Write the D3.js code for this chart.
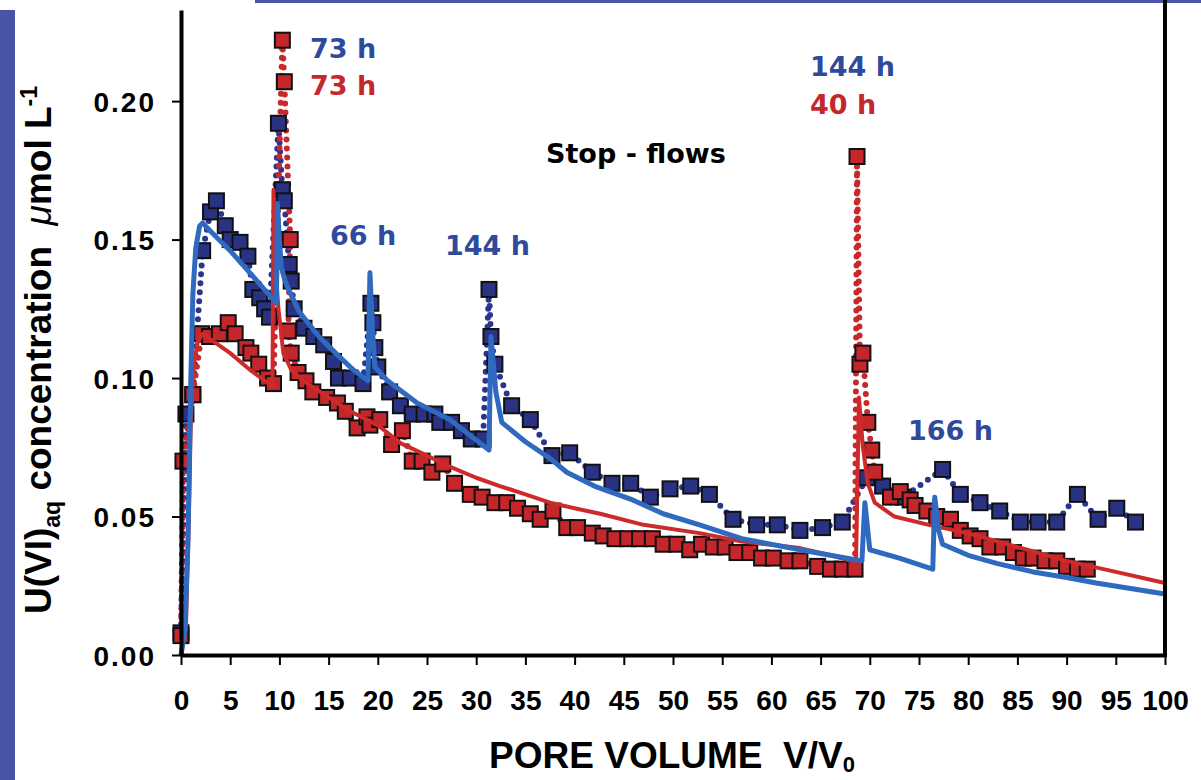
<html>
<head>
<script src="https://d3js.org/d3.v7.min.js"></script>
<style>
  body { margin: 0; background: #fff; }
  svg { display: block; }
  text { font-family: "Liberation Sans", Arial, sans-serif; font-weight: bold; }
</style>
</head>
<body>
<div id="chart"></div>
<script>
// measured U(VI) data, column A (blue) and column B (red): [pore volume, conc]
var blueData = [
  [0.0,0.008],[0.5,0.087],[1.2,0.094],[2.2,0.146],[3.0,0.160],[3.6,0.164],[4.5,0.155],
  [5.0,0.150],[6.0,0.149],[6.8,0.144],[7.3,0.132],[8.0,0.129],[8.5,0.125],[9.0,0.122],
  [9.9,0.192],[10.3,0.168],[10.5,0.164],[10.8,0.150],[11.0,0.141],[11.2,0.135],[11.5,0.125],
  [12.5,0.118],[13.5,0.115],[14.5,0.112],[15.5,0.106],[16.0,0.100],[17.2,0.100],[18.5,0.098],
  [19.3,0.127],[19.5,0.120],[19.7,0.111],[20.0,0.104],[21.2,0.095],[22.3,0.090],[23.5,0.087],
  [24.7,0.087],[25.8,0.087],[26.3,0.084],[27.5,0.084],[28.5,0.081],[29.5,0.078],[30.7,0.078],
  [31.3,0.132],[31.5,0.115],[31.9,0.105],[33.6,0.090],[35.5,0.085],[37.7,0.072],[39.5,0.073],
  [41.8,0.066],[43.8,0.062],[45.7,0.062],[47.7,0.057],[49.7,0.060],[51.8,0.061],[53.7,0.058],
  [56.1,0.049],[58.5,0.047],[60.6,0.047],[62.9,0.045],[65.2,0.046],[67.2,0.048],
  [69.7,0.064],[71.3,0.061],[73.4,0.057],[77.4,0.067],[79.2,0.058],[81.2,0.055],[83.2,0.052],
  [85.3,0.048],[87.1,0.048],[89.0,0.048],[91.1,0.058],[93.2,0.049],[95.1,0.053],[97.0,0.048]
];
var redData = [
  [0.0,0.007],[0.2,0.070],[1.2,0.094],[2.1,0.116],[2.9,0.115],[3.9,0.116],[4.8,0.120],
  [5.5,0.116],[6.6,0.111],[7.1,0.109],[7.9,0.105],[8.8,0.100],[9.4,0.098],
  [10.3,0.222],[10.5,0.207],[11.1,0.150],[10.9,0.117],[11.2,0.109],[11.9,0.102],[12.7,0.099],
  [13.4,0.095],[14.8,0.093],[15.9,0.091],[16.7,0.088],[17.9,0.082],[18.9,0.086],[19.2,0.083],
  [20.2,0.085],[21.4,0.076],[22.5,0.081],[23.5,0.070],[24.5,0.070],[25.5,0.066],[26.6,0.069],
  [27.8,0.062],[29.4,0.058],[30.6,0.057],[31.9,0.055],[33.1,0.055],[34.2,0.053],[35.5,0.051],
  [36.5,0.049],[37.8,0.052],[39.2,0.046],[40.3,0.046],[41.8,0.044],[42.9,0.043],[44.1,0.042],
  [45.4,0.042],[46.6,0.042],[47.9,0.042],[49.0,0.040],[50.4,0.040],[51.7,0.038],[52.9,0.040],
  [54.1,0.039],[55.3,0.039],[56.5,0.037],[57.8,0.037],[59.0,0.035],[60.2,0.035],[61.7,0.034],
  [62.9,0.034],[64.7,0.032],[66.0,0.031],[67.2,0.031],[68.5,0.031],
  [68.7,0.180],[69.0,0.105],[69.3,0.109],[69.8,0.084],[70.2,0.074],[70.5,0.066],[72.1,0.057],
  [73.1,0.059],[74.1,0.056],[74.6,0.054],[75.8,0.052],[76.8,0.050],[78.2,0.049],[79.2,0.045],
  [80.2,0.043],[81.2,0.042],[82.2,0.039],[83.5,0.039],[84.6,0.037],[85.6,0.035],[86.6,0.035],
  [87.8,0.034],[89.0,0.034],[90.0,0.032],[91.1,0.031],[92.1,0.031]
];
// model fits (solid lines)
var blueModel = [
  [0,0],[0.4,0.009],[0.7,0.04],[1.0,0.10],[1.2,0.13],[1.5,0.147],[1.9,0.155],[2.2,0.156],
  [3,0.153],[5,0.146],[7,0.138],[9.7,0.127],[9.8,0.163],[10.0,0.150],[10.2,0.140],[10.5,0.136],
  [10.8,0.133],[12,0.124],[14,0.115],[16,0.108],[17.5,0.103],[19.0,0.099],[19.2,0.138],
  [19.5,0.115],[19.7,0.104],[21,0.099],[24,0.091],[27.3,0.085],[29.5,0.079],[31.3,0.074],
  [31.5,0.115],[32.0,0.095],[32.6,0.084],[35,0.077],[37.5,0.071],[39.2,0.066],[42,0.061],
  [45.9,0.056],[49,0.051],[52.7,0.047],[57,0.042],[62.9,0.038],[66,0.036],[69.2,0.034],
  [69.5,0.055],[70.0,0.038],[73,0.035],[76.4,0.031],[76.6,0.057],[77.0,0.045],[77.4,0.040],
  [80,0.036],[83,0.033],[86.6,0.030],[90,0.028],[93,0.026],[96.5,0.024],[100,0.022]
];
var redModel = [
  [0,0],[0.5,0.01],[0.8,0.05],[1.0,0.085],[1.3,0.105],[1.7,0.113],[2.2,0.116],[3,0.114],
  [5,0.109],[7,0.103],[9.3,0.097],[9.4,0.168],[9.7,0.135],[9.9,0.125],[10.4,0.109],
  [11.2,0.103],[12.4,0.099],[15,0.093],[17.2,0.088],[20,0.083],[22.3,0.0765],[25,0.072],
  [27.3,0.068],[30,0.064],[32.4,0.061],[35,0.058],[37.5,0.055],[40,0.053],[42.6,0.051],
  [47,0.047],[52.7,0.044],[57,0.041],[62.9,0.0386],[66,0.036],[68.6,0.0336],[68.9,0.093],
  [69.3,0.075],[69.8,0.062],[70.5,0.055],[72.5,0.050],[76,0.047],[79.9,0.044],[85,0.039],
  [90,0.034],[95,0.030],[100,0.026]
];
var xTicks = d3.range(0, 101, 5);
var yTicks = [0, 0.05, 0.10, 0.15, 0.20];
var notes = [
  {t: "73 h", x: 310, y: 58, c: "#2f4a9c"},
  {t: "73 h", x: 310, y: 95, c: "#c5282b"},
  {t: "66 h", x: 330, y: 245, c: "#2f4a9c"},
  {t: "144 h", x: 445, y: 255, c: "#2f4a9c"},
  {t: "144 h", x: 810, y: 76, c: "#2f4a9c"},
  {t: "40 h", x: 810, y: 114, c: "#c5282b"},
  {t: "166 h", x: 908, y: 440, c: "#2f4a9c"},
  {t: "Stop - flows", x: 546, y: 163, c: "#000"}
];

var W = 1201, H = 780;
var svg = d3.select("#chart").append("svg").attr("width", W).attr("height", H);

// slide decoration
svg.append("rect").attr("x", 0).attr("y", 10).attr("width", 15).attr("height", H - 10).attr("fill", "#4a54a6");
svg.append("rect").attr("x", 255).attr("y", 0).attr("width", W - 255).attr("height", 3).attr("fill", "#4a54a6");

var x = d3.scaleLinear().domain([0, 100]).range([181, 1165]);
var y = d3.scaleLinear().domain([0, 0.2329]).range([655, 10]);

var line = d3.line().x(function(d) { return x(d[0]); }).y(function(d) { return y(d[1]); });

// dotted connectors through the data
svg.append("path").datum(blueData).attr("d", line).attr("fill", "none")
  .attr("stroke", "#2b3590").attr("stroke-width", 6).attr("stroke-linecap", "round").attr("stroke-dasharray", "0,9");
svg.append("path").datum(redData).attr("d", line).attr("fill", "none")
  .attr("stroke", "#c8282a").attr("stroke-width", 6).attr("stroke-linecap", "round").attr("stroke-dasharray", "0,9");

// squares
var sq = 15;
svg.append("g").selectAll("rect").data(blueData).enter().append("rect")
  .attr("x", function(d) { return x(d[0]) - sq / 2; }).attr("y", function(d) { return y(d[1]) - sq / 2; })
  .attr("width", sq).attr("height", sq).attr("fill", "#2a3284").attr("stroke", "#111").attr("stroke-width", 2);
svg.append("g").selectAll("rect").data(redData).enter().append("rect")
  .attr("x", function(d) { return x(d[0]) - sq / 2; }).attr("y", function(d) { return y(d[1]) - sq / 2; })
  .attr("width", sq).attr("height", sq).attr("fill", "#c4262b").attr("stroke", "#111").attr("stroke-width", 2);

// model lines
svg.append("path").datum(redModel).attr("d", line).attr("fill", "none")
  .attr("stroke", "#cf2a2a").attr("stroke-width", 4).attr("stroke-linejoin", "round");
svg.append("path").datum(blueModel).attr("d", line).attr("fill", "none")
  .attr("stroke", "#2f6ac0").attr("stroke-width", 5).attr("stroke-linejoin", "round");

// axes
var xAxis = svg.append("g").attr("transform", "translate(0,655)")
  .call(d3.axisBottom(x).tickValues(xTicks).tickSize(10).tickSizeOuter(0).tickPadding(25));
var yAxis = svg.append("g").attr("transform", "translate(181,0)")
  .call(d3.axisLeft(y).tickValues(yTicks).tickFormat(d3.format(".2f")).tickSize(9).tickSizeOuter(0).tickPadding(16));
[xAxis, yAxis].forEach(function(a) {
  a.select(".domain").attr("stroke", "#000").attr("stroke-width", 4);
  a.selectAll(".tick line").attr("stroke", "#000").attr("stroke-width", 2);
  a.selectAll(".tick text").attr("fill", "#000").style("font-size", "28px").style("font-weight", "bold")
    .style("font-family", "'Liberation Sans', Arial, sans-serif");
});
xAxis.selectAll(".tick text").attr("dy", "0.71em");
yAxis.selectAll(".tick text").style("letter-spacing", "2px").attr("dy", "0.36em");
svg.append("line").attr("x1", x(100)).attr("x2", x(100)).attr("y1", 0).attr("y2", 657)
  .attr("stroke", "#000").attr("stroke-width", 4);

// annotations
svg.append("g").selectAll("text").data(notes).enter().append("text")
  .attr("x", function(d) { return d.x; }).attr("y", function(d) { return d.y; })
  .attr("fill", function(d) { return d.c; }).style("font-size", "27px")
  .style("font-family", "'DejaVu Sans', sans-serif")
  .text(function(d) { return d.t; });

// axis titles
var xt = svg.append("text").attr("x", 672).attr("y", 768).attr("text-anchor", "middle")
  .style("font-size", "37px").style("white-space", "pre");
xt.append("tspan").text("PORE VOLUME  V/V");
xt.append("tspan").attr("dy", 4).style("font-size", "22px").text("0");

var yt = svg.append("text").attr("transform", "translate(51,350) rotate(-90)").attr("text-anchor", "middle")
  .style("font-size", "37px").style("white-space", "pre");
yt.append("tspan").text("U(VI)");
yt.append("tspan").attr("dy", 9).style("font-size", "23px").text("aq");
yt.append("tspan").attr("dy", -9).text(" concentration  ");
yt.append("tspan").style("font-style", "italic").style("font-weight", "normal").text("\u03bc");
yt.append("tspan").text("mol L");
yt.append("tspan").attr("dy", -14).style("font-size", "23px").text("-1");
</script>
</body>
</html>
